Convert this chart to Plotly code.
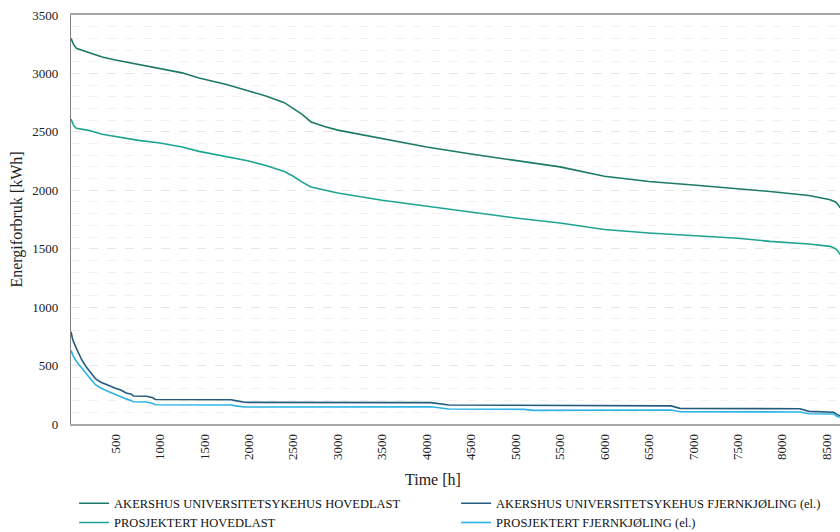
import plotly.graph_objects as go

# Duration curves (hours sorted by descending load)
hours_main = [0, 15, 30, 60, 120, 200, 350, 500, 760, 1000, 1250, 1440, 1750, 2000,
              2200, 2400, 2500, 2600, 2700, 2850, 3000, 3500, 4000, 4500, 5000, 5500,
              6000, 6500, 7000, 7500, 7860, 8300, 8540, 8600, 8630, 8650]
akershus_hovedlast = [3300, 3265, 3246, 3215, 3200, 3183, 3140, 3115, 3075, 3040, 3005, 2960,
                      2905, 2850, 2805, 2750, 2700, 2650, 2585, 2545, 2515, 2440, 2370, 2310,
                      2255, 2200, 2120, 2075, 2045, 2015, 1990, 1955, 1919, 1900, 1877, 1850]
prosjektert_hovedlast = [2610, 2575, 2553, 2530, 2520, 2513, 2480, 2462, 2427, 2405, 2370, 2333,
                         2290, 2250, 2210, 2160, 2120, 2070, 2028, 2000, 1977, 1915, 1865, 1815,
                         1763, 1720, 1665, 1635, 1610, 1590, 1563, 1540, 1520, 1500, 1477, 1450]

hours_fjk = [0, 20, 50, 80, 120, 170, 220, 275, 330, 400, 450, 500, 560, 620, 680, 700,
             850, 880, 920, 950, 1800, 1850, 1900, 1950, 2000, 4050, 4250, 5100, 5200,
             6750, 6850, 8200, 8300, 8580, 8620, 8650]
akershus_fjernkjoling = [790, 720, 664, 610, 550, 490, 440, 388, 360, 335, 320, 305, 290, 265,
                         255, 240, 238, 235, 225, 210, 207, 200, 190, 186, 185, 183, 163, 160,
                         157, 155, 134, 130, 108, 100, 80, 70]
prosjektert_fjernkjoling = [630, 590, 550, 515, 482, 430, 385, 336, 310, 285, 268, 250, 232,
                            215, 200, 190, 188, 185, 175, 165, 162, 155, 148, 146, 145, 148,
                            128, 125, 117, 120, 105, 103, 88, 85, 65, 58]

x_ticks = list(range(500, 9000, 500))
y_ticks = list(range(0, 4000, 500))

FONT = "Liberation Serif"

fig = go.Figure()
fig.add_trace(go.Scatter(x=hours_main, y=akershus_hovedlast, mode="lines",
                         name="AKERSHUS UNIVERSITETSYKEHUS HOVEDLAST",
                         line=dict(color="#1c7a69", width=1.6)))
fig.add_trace(go.Scatter(x=hours_fjk, y=akershus_fjernkjoling, mode="lines",
                         name="AKERSHUS UNIVERSITETSYKEHUS FJERNKJØLING (el.)",
                         line=dict(color="#245b7e", width=1.6)))
fig.add_trace(go.Scatter(x=hours_main, y=prosjektert_hovedlast, mode="lines",
                         name="PROSJEKTERT HOVEDLAST",
                         line=dict(color="#1ea592", width=1.6)))
fig.add_trace(go.Scatter(x=hours_fjk, y=prosjektert_fjernkjoling, mode="lines",
                         name="PROSJEKTERT FJERNKJØLING (el.)",
                         line=dict(color="#2bb3e6", width=1.6)))

fig.update_layout(
    width=840, height=532,
    margin=dict(l=71, r=0, t=15, b=108, autoexpand=False),
    paper_bgcolor="white", plot_bgcolor="white",
    font=dict(family=FONT, size=13, color="#222"),
    showlegend=True,
    legend=dict(orientation="h", x=0.004, xanchor="left", y=-0.158, yanchor="top",
                entrywidth=337, font=dict(size=12.5, family=FONT, color="#111"),
                tracegroupgap=0, itemwidth=30),
    annotations=[dict(text="Time [h]", xref="paper", yref="paper", x=0.471, y=-0.135,
                      xanchor="center", yanchor="middle", showarrow=False,
                      font=dict(size=16, family=FONT, color="#222"))],
)

fig.update_xaxes(range=[0, 8650], tickvals=x_ticks, tickangle=-90,
                 showgrid=False, zeroline=False, automargin=False,
                 showline=True, mirror=True, linecolor="#a6a6a6", linewidth=1.5,
                 ticks="", ticklabelstandoff=3,
                 tickfont=dict(size=13, family=FONT, color="#222"))
fig.update_yaxes(range=[0, 3500], tickvals=y_ticks, automargin=False,
                 title=dict(text="Energiforbruk [kWh]", font=dict(size=16, family=FONT, color="#222"),
                            standoff=5),
                 showgrid=True, gridcolor="#e6e6e6", griddash="dash", gridwidth=1,
                 minor=dict(dtick=100, showgrid=True, gridcolor="#f1f1f1", gridwidth=1),
                 zeroline=False, showline=True, linecolor="#7f7f7f", linewidth=1.2,
                 ticks="", ticklabelstandoff=9,
                 tickfont=dict(size=13, family=FONT, color="#222"))

fig.write_html("out.html")
